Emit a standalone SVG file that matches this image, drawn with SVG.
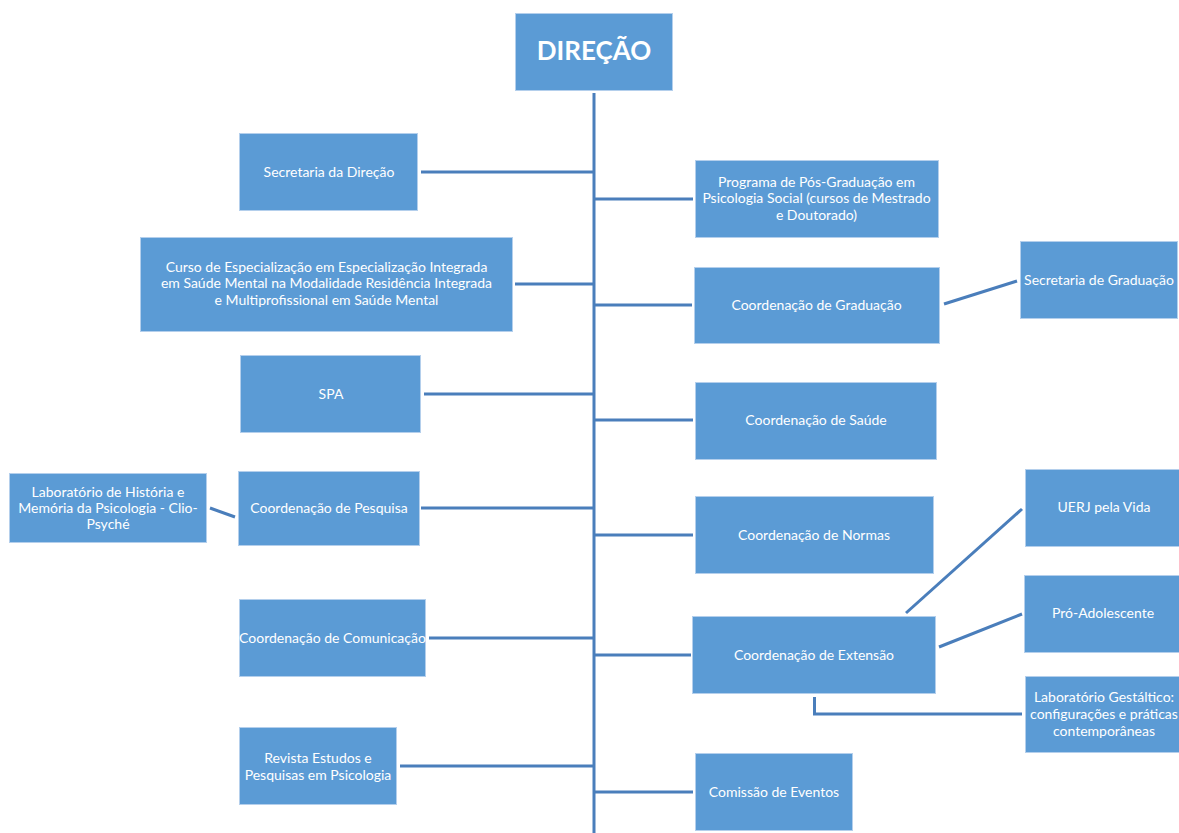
<svg xmlns="http://www.w3.org/2000/svg" width="1179" height="833" viewBox="0 0 1179 833">
<style>
.b{fill:#5B9BD5;stroke:#B4CFEC;stroke-width:1}
.t{font-family:Lato,"Open Sans","Liberation Sans",sans-serif;font-size:14px;fill:#FFFFFF;text-anchor:middle}
.h{font-family:Lato,"Open Sans","Liberation Sans",sans-serif;font-size:26px;font-weight:bold;fill:#FFFFFF;text-anchor:middle}
.c{fill:none;stroke:#4A7EBB;stroke-width:3}
</style>
<rect width="1179" height="833" fill="#FFFFFF"/>
<g id="connectors">
<line class="c" x1="594" y1="93" x2="594" y2="833"/>
<line class="c" x1="421" y1="172" x2="594" y2="172"/>
<line class="c" x1="515" y1="284" x2="594" y2="284"/>
<line class="c" x1="424" y1="394" x2="594" y2="394"/>
<line class="c" x1="421" y1="508" x2="594" y2="508"/>
<line class="c" x1="429" y1="638" x2="594" y2="638"/>
<line class="c" x1="400" y1="766" x2="594" y2="766"/>
<line class="c" x1="594" y1="199" x2="693" y2="199"/>
<line class="c" x1="594" y1="305" x2="692" y2="305"/>
<line class="c" x1="594" y1="420" x2="693" y2="420"/>
<line class="c" x1="594" y1="535" x2="693" y2="535"/>
<line class="c" x1="594" y1="655" x2="691" y2="655"/>
<line class="c" x1="594" y1="792" x2="693" y2="792"/>
<line class="c" x1="210" y1="508" x2="235" y2="517"/>
<line class="c" x1="944" y1="304" x2="1017" y2="281"/>
<line class="c" x1="906" y1="613" x2="1022" y2="509"/>
<line class="c" x1="939" y1="647" x2="1022" y2="614"/>
<polyline class="c" points="814.5,697 814.5,714 1022,714"/>
</g>
<g id="direcao"><rect class="b" x="515.5" y="13.5" width="157" height="77"/><text class="h" x="594" y="60">DIREÇÃO</text></g>
<g id="secretaria-direcao"><rect class="b" x="239.5" y="133.5" width="178" height="77"/><text class="t" x="329" y="176.5">Secretaria da Direção</text></g>
<g id="curso-especializacao"><rect class="b" x="140.5" y="237.5" width="372" height="94"/><text class="t" x="326.5" y="271.5">Curso de Especialização em Especialização Integrada</text><text class="t" x="326.5" y="288">em Saúde Mental na Modalidade Residência Integrada</text><text class="t" x="326.5" y="304.5">e Multiprofissional em Saúde Mental</text></g>
<g id="spa"><rect class="b" x="240.5" y="355.5" width="180" height="77"/><text class="t" x="331" y="399">SPA</text></g>
<g id="coord-pesquisa"><rect class="b" x="238.5" y="471.5" width="181" height="74"/><text class="t" x="329" y="513">Coordenação de Pesquisa</text></g>
<g id="lab-historia"><rect class="b" x="9.5" y="473.5" width="197" height="69"/><text class="t" x="108" y="497">Laboratório de História e</text><text class="t" x="108" y="513">Memória da Psicologia - Clio-</text><text class="t" x="108" y="529">Psyché</text></g>
<g id="coord-comunicacao"><rect class="b" x="239.5" y="599.5" width="186" height="77"/><text class="t" x="332.5" y="643">Coordenação de Comunicação</text></g>
<g id="revista"><rect class="b" x="239.5" y="727.5" width="157" height="77"/><text class="t" x="318" y="763">Revista Estudos e</text><text class="t" x="318" y="779.5">Pesquisas em Psicologia</text></g>
<g id="pos-graduacao"><rect class="b" x="695.5" y="160.5" width="243" height="77"/><text class="t" x="816.5" y="186.5">Programa de Pós-Graduação em</text><text class="t" x="816.5" y="203">Psicologia Social (cursos de Mestrado</text><text class="t" x="816.5" y="219.5">e Doutorado)</text></g>
<g id="coord-graduacao"><rect class="b" x="694.5" y="267.5" width="245" height="76"/><text class="t" x="816.5" y="309.5">Coordenação de Graduação</text></g>
<g id="secretaria-graduacao"><rect class="b" x="1020.5" y="241.5" width="157" height="77"/><text class="t" x="1099" y="284.5">Secretaria de Graduação</text></g>
<g id="coord-saude"><rect class="b" x="695.5" y="382.5" width="241" height="77"/><text class="t" x="816" y="425">Coordenação de Saúde</text></g>
<g id="coord-normas"><rect class="b" x="695.5" y="496.5" width="238" height="77"/><text class="t" x="814" y="539.5">Coordenação de Normas</text></g>
<g id="coord-extensao"><rect class="b" x="692.5" y="616.5" width="243" height="77"/><text class="t" x="814" y="659.5">Coordenação de Extensão</text></g>
<g id="uerj-vida"><rect class="b" x="1025.5" y="469.5" width="155" height="77"/><text class="t" x="1104" y="512">UERJ pela Vida</text></g>
<g id="pro-adolescente"><rect class="b" x="1024.5" y="575.5" width="156" height="77"/><text class="t" x="1103" y="618">Pró-Adolescente</text></g>
<g id="lab-gestaltico"><rect class="b" x="1025.5" y="676.5" width="155" height="76"/><text class="t" x="1104" y="702">Laboratório Gestáltico:</text><text class="t" x="1104" y="719">configurações e práticas</text><text class="t" x="1104" y="735.5">contemporâneas</text></g>
<g id="comissao-eventos"><rect class="b" x="695.5" y="753.5" width="157" height="77"/><text class="t" x="774" y="797">Comissão de Eventos</text></g>
</svg>
